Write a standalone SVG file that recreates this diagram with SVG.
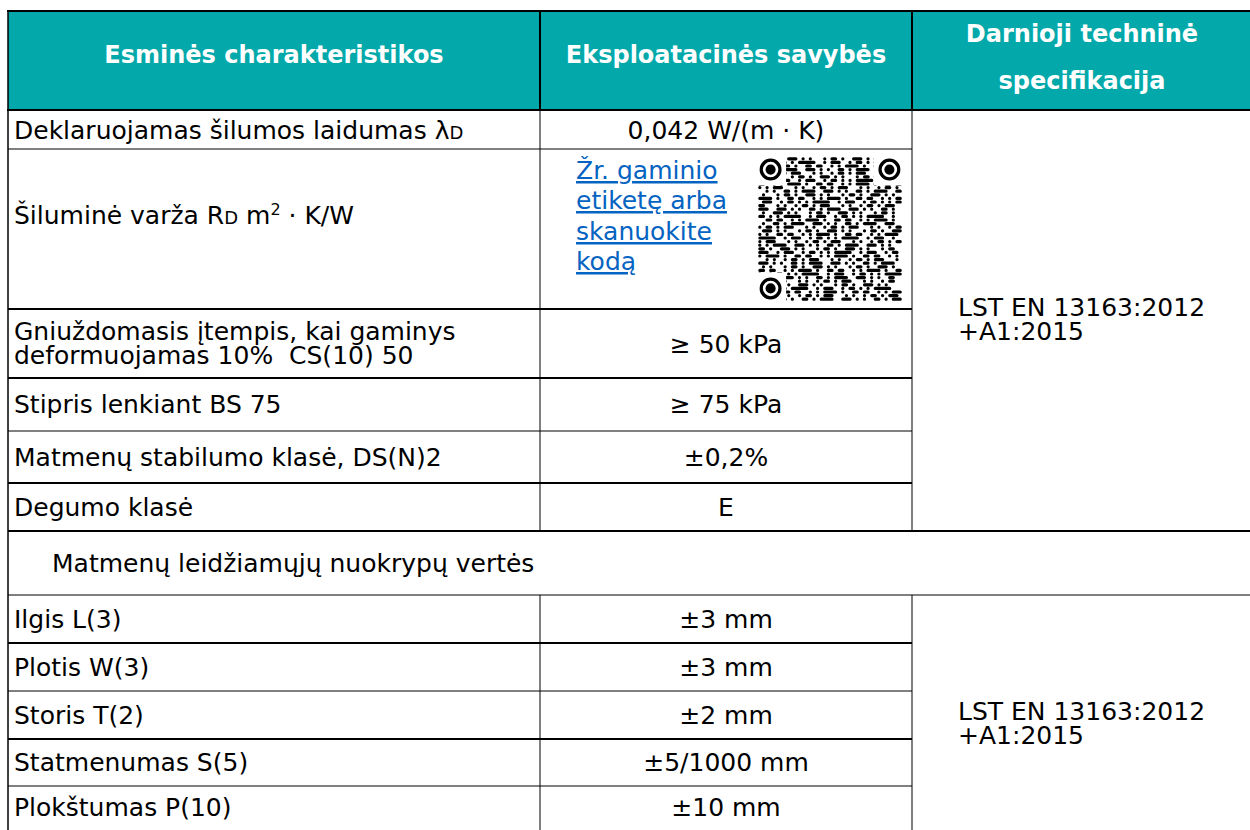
<svg xmlns="http://www.w3.org/2000/svg" width="1250" height="830" viewBox="0 0 1250 830">
<style>
.t{font-family:"DejaVu Sans",Verdana,sans-serif;font-size:25px;fill:#000}
.h{font-family:"DejaVu Sans",Verdana,sans-serif;font-size:24px;font-weight:bold;fill:#fff;text-anchor:middle}
.c{text-anchor:middle}
.lnk{fill:#0563C1;text-decoration:underline}
.sub{font-size:18px}
.sup{font-size:16px}
.k{stroke:#000;stroke-width:2;fill:none}
.n{stroke:#000;stroke-width:1;fill:none}
.q{fill:none;stroke:#000;stroke-width:0.9;stroke-linecap:round}
.qa{stroke-dasharray:0.01 2 1 2 0.01 3 2 2 0.01 2 0.01 4}
.qb{stroke-dasharray:1 3 0.01 2 0.01 2 3 2 0.01 3 1 2}
.qc{stroke-dasharray:0.01 2 2 3 0.01 2 1 2 0.01 2 0.01 2 4 3}
.qd{stroke-dasharray:0.01 3 0.01 2 1 2 0.01 2 2 4 0.01 2}
.qe{stroke-dasharray:2 2 0.01 2 0.01 3 1 2 0.01 2 3 3}
</style>
<rect x="0" y="0" width="1250" height="830" fill="#fff"/>
<g id="header">
<rect x="8" y="11" width="1242" height="99" fill="#03A9AA"/>
<text class="h" x="274" y="63">Esminės charakteristikos</text>
<text class="h" x="726" y="63">Eksploatacinės savybės</text>
<text class="h" x="1082" y="42">Darnioji techninė</text>
<text class="h" x="1082" y="89">specifikacija</text>
</g>
<g id="grid">
<line class="k" x1="7" y1="11" x2="1250" y2="11"/>
<line class="k" x1="7" y1="110" x2="1250" y2="110"/>
<line class="n" x1="8" y1="149" x2="912" y2="149"/>
<line class="k" x1="8" y1="309" x2="912" y2="309"/>
<line class="k" x1="8" y1="378" x2="912" y2="378"/>
<line class="n" x1="8" y1="431" x2="912" y2="431"/>
<line class="k" x1="8" y1="483" x2="912" y2="483"/>
<line class="k" x1="8" y1="531" x2="1250" y2="531"/>
<line class="n" x1="8" y1="595" x2="1250" y2="595"/>
<line class="k" x1="8" y1="643" x2="912" y2="643"/>
<line class="n" x1="8" y1="691" x2="912" y2="691"/>
<line class="k" x1="8" y1="739" x2="912" y2="739"/>
<line class="n" x1="8" y1="786" x2="912" y2="786"/>
<line x1="8" y1="10" x2="8" y2="830" stroke="#000" stroke-width="1.5"/>
<line class="k" x1="540" y1="11" x2="540" y2="110"/>
<line class="k" x1="912" y1="11" x2="912" y2="110"/>
<line class="n" x1="540" y1="110" x2="540" y2="531"/>
<line class="n" x1="912" y1="110" x2="912" y2="531"/>
<line class="n" x1="540" y1="595" x2="540" y2="830"/>
<line class="n" x1="912" y1="595" x2="912" y2="830"/>
</g>
<g id="row-lambda">
<text class="t" x="14" y="139">Deklaruojamas šilumos laidumas λ<tspan class="sub">D</tspan></text>
<text class="t c" x="726" y="139">0,042 W/(m · K)</text>
</g>
<g id="row-rd">
<text class="t" x="14" y="224">Šiluminė varža R<tspan class="sub">D</tspan> m<tspan class="sup" dy="-9">2</tspan><tspan dy="9"> · K/W</tspan></text>
<text class="t lnk" x="576" y="179">Žr. gaminio</text>
<text class="t lnk" x="576" y="209">etiketę arba</text>
<text class="t lnk" x="576" y="240">skanuokite</text>
<text class="t lnk" x="576" y="270">kodą</text>
<g id="qr" transform="translate(758,157) scale(3.6)">
<path class="q qa" d="M0.5 0.5H39.5"/>
<path class="q qc" style="stroke-dashoffset:5" d="M0.5 1.5H39.5"/>
<path class="q qb" style="stroke-dashoffset:3" d="M0.5 2.5H39.5"/>
<path class="q qe" style="stroke-dashoffset:7" d="M0.5 3.5H39.5"/>
<path class="q qd" style="stroke-dashoffset:1" d="M0.5 4.5H39.5"/>
<path class="q qa" style="stroke-dashoffset:9" d="M0.5 5.5H39.5"/>
<path class="q qc" style="stroke-dashoffset:12" d="M0.5 6.5H39.5"/>
<path class="q qb" d="M0.5 7.5H39.5"/>
<path class="q qd" style="stroke-dashoffset:6" d="M0.5 8.5H39.5"/>
<path class="q qe" style="stroke-dashoffset:2" d="M0.5 9.5H39.5"/>
<path class="q qa" style="stroke-dashoffset:13" d="M0.5 10.5H39.5"/>
<path class="q qb" style="stroke-dashoffset:8" d="M0.5 11.5H39.5"/>
<path class="q qc" style="stroke-dashoffset:1" d="M0.5 12.5H39.5"/>
<path class="q qd" style="stroke-dashoffset:11" d="M0.5 13.5H39.5"/>
<path class="q qe" style="stroke-dashoffset:15" d="M0.5 14.5H39.5"/>
<path class="q qa" style="stroke-dashoffset:4" d="M0.5 15.5H39.5"/>
<path class="q qc" style="stroke-dashoffset:9" d="M0.5 16.5H39.5"/>
<path class="q qb" style="stroke-dashoffset:14" d="M0.5 17.5H39.5"/>
<path class="q qe" style="stroke-dashoffset:5" d="M0.5 18.5H39.5"/>
<path class="q qd" style="stroke-dashoffset:3" d="M0.5 19.5H39.5"/>
<path class="q qa" style="stroke-dashoffset:7" d="M0.5 20.5H39.5"/>
<path class="q qb" style="stroke-dashoffset:11" d="M0.5 21.5H39.5"/>
<path class="q qc" style="stroke-dashoffset:16" d="M0.5 22.5H39.5"/>
<path class="q qd" style="stroke-dashoffset:8" d="M0.5 23.5H39.5"/>
<path class="q qe" style="stroke-dashoffset:10" d="M0.5 24.5H39.5"/>
<path class="q qa" style="stroke-dashoffset:2" d="M0.5 25.5H39.5"/>
<path class="q qc" style="stroke-dashoffset:18" d="M0.5 26.5H39.5"/>
<path class="q qb" style="stroke-dashoffset:6" d="M0.5 27.5H39.5"/>
<path class="q qd" style="stroke-dashoffset:14" d="M0.5 28.5H39.5"/>
<path class="q qe" d="M0.5 29.5H39.5"/>
<path class="q qa" style="stroke-dashoffset:11" d="M0.5 30.5H39.5"/>
<path class="q qb" style="stroke-dashoffset:16" d="M0.5 31.5H39.5"/>
<path class="q qc" style="stroke-dashoffset:4" d="M0.5 32.5H39.5"/>
<path class="q qe" style="stroke-dashoffset:13" d="M0.5 33.5H39.5"/>
<path class="q qd" style="stroke-dashoffset:5" d="M0.5 34.5H39.5"/>
<path class="q qa" style="stroke-dashoffset:15" d="M0.5 35.5H39.5"/>
<path class="q qc" style="stroke-dashoffset:7" d="M0.5 36.5H39.5"/>
<path class="q qb" style="stroke-dashoffset:9" d="M0.5 37.5H39.5"/>
<path class="q qd" style="stroke-dashoffset:10" d="M0.5 38.5H39.5"/>
<path class="q qe" style="stroke-dashoffset:17" d="M0.5 39.5H39.5"/>
<rect x="-0.2" y="-0.2" width="8" height="8" fill="#fff"/>
<rect x="32.2" y="-0.2" width="8" height="8" fill="#fff"/>
<rect x="-0.2" y="32.2" width="8" height="8" fill="#fff"/>
<circle cx="3.5" cy="3.5" r="2.6" fill="none" stroke="#000" stroke-width="0.9"/>
<circle cx="3.5" cy="3.5" r="1.4" fill="#000"/>
<circle cx="36.5" cy="3.5" r="2.6" fill="none" stroke="#000" stroke-width="0.9"/>
<circle cx="36.5" cy="3.5" r="1.4" fill="#000"/>
<circle cx="3.5" cy="36.5" r="2.6" fill="none" stroke="#000" stroke-width="0.9"/>
<circle cx="3.5" cy="36.5" r="1.4" fill="#000"/>
</g>
</g>
<g id="spec-top">
<text class="t" x="958" y="316">LST EN 13163:2012</text>
<text class="t" x="958" y="340">+A1:2015</text>
</g>
<g id="row-cs">
<text class="t" x="14" y="340">Gniuždomasis įtempis, kai gaminys</text>
<text class="t" x="14" y="364" xml:space="preserve">deformuojamas 10%  CS(10) 50</text>
<text class="t c" x="726" y="353">≥ 50 kPa</text>
</g>
<g id="row-bs">
<text class="t" x="14" y="413">Stipris lenkiant BS 75</text>
<text class="t c" x="726" y="413">≥ 75 kPa</text>
</g>
<g id="row-ds">
<text class="t" x="14" y="466">Matmenų stabilumo klasė, DS(N)2</text>
<text class="t c" x="726" y="466">±0,2%</text>
</g>
<g id="row-fire">
<text class="t" x="14" y="516">Degumo klasė</text>
<text class="t c" x="726" y="516">E</text>
</g>
<g id="row-tol">
<text class="t" x="52" y="572">Matmenų leidžiamųjų nuokrypų vertės</text>
</g>
<g id="row-l">
<text class="t" x="14" y="628">Ilgis L(3)</text>
<text class="t c" x="726" y="628">±3 mm</text>
</g>
<g id="row-w">
<text class="t" x="14" y="676">Plotis W(3)</text>
<text class="t c" x="726" y="676">±3 mm</text>
</g>
<g id="row-t">
<text class="t" x="14" y="724">Storis T(2)</text>
<text class="t c" x="726" y="724">±2 mm</text>
</g>
<g id="row-s">
<text class="t" x="14" y="771">Statmenumas S(5)</text>
<text class="t c" x="726" y="771">±5/1000 mm</text>
</g>
<g id="row-p">
<text class="t" x="14" y="816">Plokštumas P(10)</text>
<text class="t c" x="726" y="816">±10 mm</text>
</g>
<g id="spec-bottom">
<text class="t" x="958" y="720">LST EN 13163:2012</text>
<text class="t" x="958" y="744">+A1:2015</text>
</g>
</svg>
